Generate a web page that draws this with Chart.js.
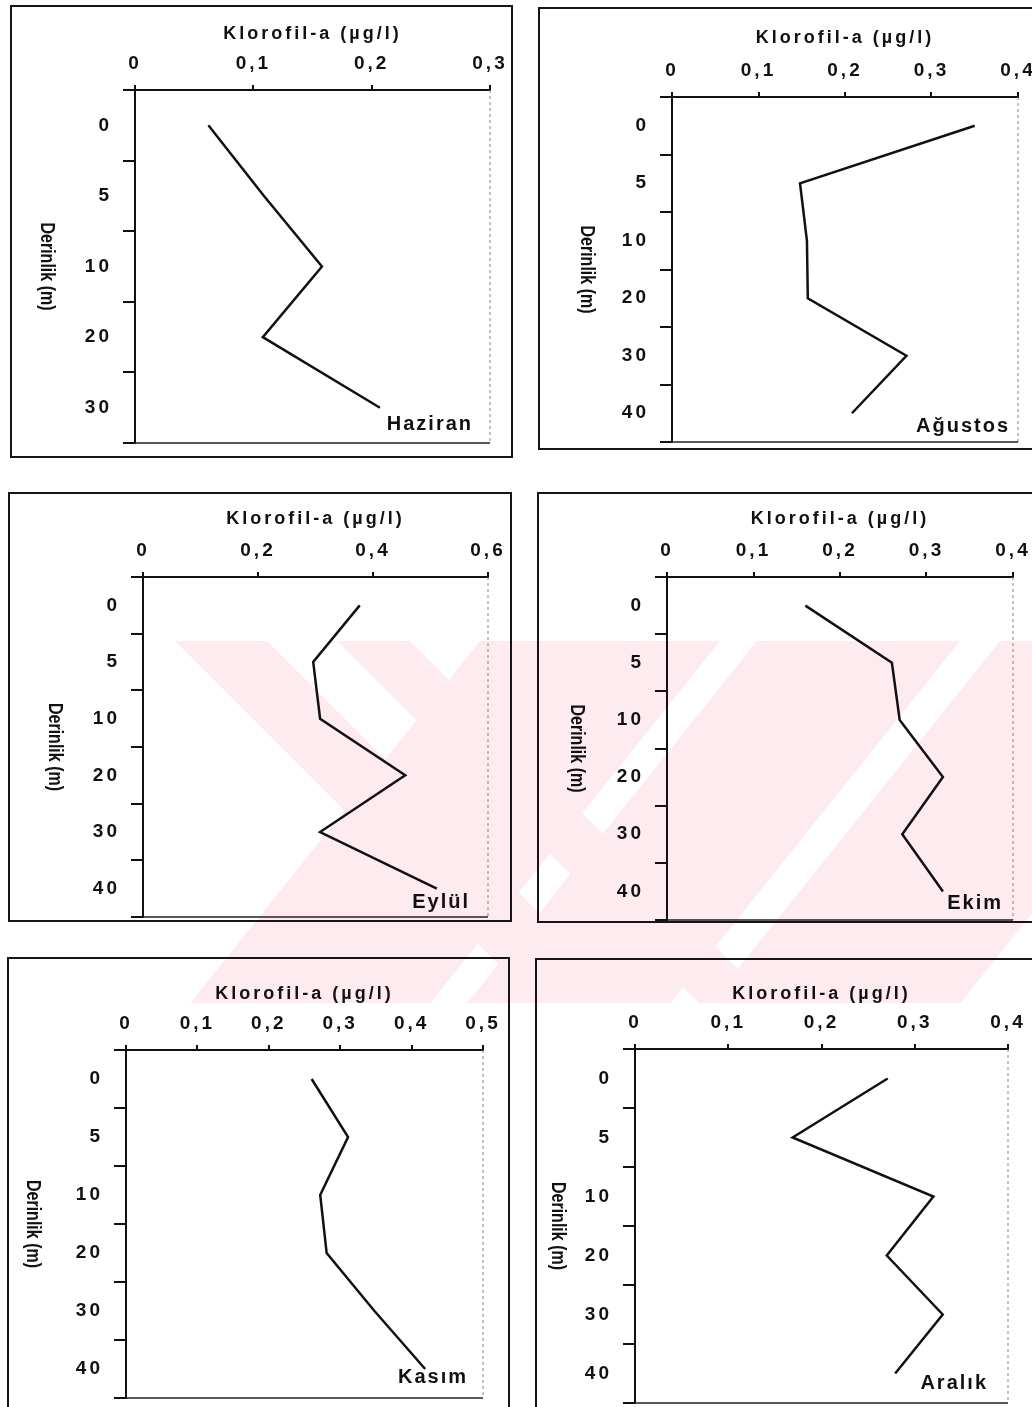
<!DOCTYPE html>
<html lang="tr">
<head>
<meta charset="utf-8">
<title>Klorofil-a derinlik profilleri</title>
<script src="https://cdn.jsdelivr.net/npm/chart.js"></script>
<style>
  html, body { margin: 0; padding: 0; background: #fff; overflow: hidden; }
  body { width: 1032px; height: 1407px; position: relative; }
  #filigran { position: absolute; left: 0; top: 0; }
  .panel { position: absolute; border: 2px solid #151515; box-sizing: border-box; }
  .panel canvas { position: absolute; left: 0; top: 0; }
</style>
</head>
<body>
<canvas id="filigran" width="1032" height="1407"></canvas>
<script>
// Derinlik (m) kategorileri
var derinlik5 = ['0', '5', '10', '20', '30'];
var derinlik6 = ['0', '5', '10', '20', '30', '40'];

// Klorofil-a (µg/l) degerleri, her ay icin derinlige gore
var haziran = [0.062, 0.109, 0.158, 0.108, 0.207];
var agustos = [0.350, 0.148, 0.156, 0.157, 0.271, 0.208];
var eylul   = [0.377, 0.296, 0.308, 0.456, 0.308, 0.511];
var ekim    = [0.160, 0.260, 0.269, 0.319, 0.272, 0.319];
var kasim   = [0.260, 0.311, 0.272, 0.281, 0.348, 0.419];
var aralik  = [0.271, 0.169, 0.320, 0.270, 0.330, 0.279];

// x ekseni ust siniri ve adim
var xMax  = [0.3, 0.4, 0.6, 0.4, 0.5, 0.4];
var xStep = [0.1, 0.1, 0.2, 0.1, 0.1, 0.1];
var aylar = ['Haziran', 'Ağustos', 'Eylül', 'Ekim', 'Kasım', 'Aralık'];

// Panel yerlesimi (sayfa koordinatlari): cerceve ve cizim alani
var paneller = [
  { box: [10, 5, 513, 458],     area: [135, 90, 490, 443],    yBaslikX: 35, xBaslikPad: 16, ayKay: [17, 19], labels: derinlik5, data: haziran },
  { box: [538, 7, 1045, 450],   area: [672, 97, 1018, 442],   yBaslikX: 47, xBaslikPad: 18, ayKay: [8, 16],  labels: derinlik6, data: agustos },
  { box: [8, 492, 512, 922],    area: [143, 577, 488, 917],   yBaslikX: 45, xBaslikPad: 14, ayKay: [18, 15], labels: derinlik6, data: eylul },
  { box: [537, 492, 1045, 923], area: [667, 577, 1013, 920],  yBaslikX: 38, xBaslikPad: 14, ayKay: [10, 17], labels: derinlik6, data: ekim },
  { box: [7, 957, 510, 1412],   area: [126, 1050, 483, 1398], yBaslikX: 24, xBaslikPad: 24, ayKay: [15, 21], labels: derinlik6, data: kasim },
  { box: [535, 958, 1045, 1412], area: [635, 1049, 1008, 1403], yBaslikX: 21, xBaslikPad: 23, ayKay: [20, 20], labels: derinlik6, data: aralik }
];

var yazi = '"Liberation Sans", Arial, sans-serif';

// arka plandaki soluk pembe filigran (yaklasik)
(function () {
  var c = document.getElementById('filigran').getContext('2d');
  var y0 = 641, y1 = 1003;
  c.fillStyle = '#fdebef';
  function serit(a, b, egim) {
    var d = (y1 - y0) * egim;
    c.beginPath();
    c.moveTo(a, y0); c.lineTo(b, y0);
    c.lineTo(b + d, y1); c.lineTo(a + d, y1);
    c.closePath(); c.fill();
  }
  serit(175, 267, 1);
  serit(337, 410, 1);
  serit(480, 720, -0.8);
  serit(757, 960, -0.8);
  serit(1000, 1250, -0.8);
})();

// cerceve, ay adi ve dikey eksen basligi
var cercevePlugin = {
  id: 'cerceve',
  beforeDraw: function (chart) {
    chart.ctx.letterSpacing = '3px';
  },
  afterDraw: function (chart, args, o) {
    var a = chart.chartArea;
    var ctx = chart.ctx;
    ctx.save();
    ctx.strokeStyle = '#888';
    ctx.lineWidth = 1;
    ctx.setLineDash([3, 3]);
    ctx.beginPath();
    ctx.moveTo(a.right, a.top);
    ctx.lineTo(a.right, a.bottom);
    ctx.stroke();
    ctx.setLineDash([]);
    ctx.strokeStyle = '#222';
    ctx.lineWidth = 1.5;
    ctx.beginPath();
    ctx.moveTo(a.left, a.bottom);
    ctx.lineTo(a.right, a.bottom);
    ctx.stroke();

    ctx.fillStyle = '#111';
    ctx.font = 'bold 20px ' + yazi;
    ctx.letterSpacing = '2px';
    ctx.textAlign = 'right';
    ctx.textBaseline = 'middle';
    ctx.fillText(o.ay, a.right - o.kay[0], a.bottom - o.kay[1]);

    ctx.translate(o.yX, (a.top + a.bottom) / 2);
    ctx.rotate(Math.PI / 2);
    ctx.scale(0.8, 1);
    ctx.font = 'bold 20px ' + yazi;
    ctx.letterSpacing = '0px';
    ctx.textAlign = 'center';
    ctx.fillText('Derinlik (m)', 0, 0);
    ctx.restore();
  }
};

function virgul(v) {
  return v === 0 ? '0' : v.toFixed(1).replace('.', ',');
}

paneller.forEach(function (p, i) {
  var W = p.box[2] - p.box[0], H = p.box[3] - p.box[1];
  var ox = p.box[0] + 2, oy = p.box[1] + 2;
  var cw = W - 4, ch = H - 4;

  var div = document.createElement('div');
  div.className = 'panel';
  div.style.left = p.box[0] + 'px';
  div.style.top = p.box[1] + 'px';
  div.style.width = W + 'px';
  div.style.height = H + 'px';
  var cv = document.createElement('canvas');
  cv.width = cw; cv.height = ch;
  cv.style.width = cw + 'px'; cv.style.height = ch + 'px';
  div.appendChild(cv);
  document.body.appendChild(div);

  var yW = p.area[0] - ox, xH = p.area[1] - oy;
  var tikYazi = { family: yazi, size: 19, weight: 'bold' };

  new Chart(cv, {
    type: 'line',
    data: {
      labels: p.labels,
      datasets: [{
        data: p.data,
        borderColor: '#111',
        borderWidth: 2.5,
        pointRadius: 0,
        tension: 0,
        fill: false
      }]
    },
    options: {
      indexAxis: 'y',
      responsive: false,
      animation: false,
      devicePixelRatio: 1,
      layout: { padding: { left: 0, top: 0, right: cw - (p.area[2] - ox), bottom: ch - (p.area[3] - oy) } },
      plugins: {
        legend: { display: false },
        tooltip: { enabled: false },
        cerceve: { ay: aylar[i], kay: p.ayKay, yX: p.yBaslikX }
      },
      scales: {
        x: {
          type: 'linear',
          position: 'top',
          min: 0,
          max: xMax[i],
          ticks: { stepSize: xStep[i], callback: virgul, color: '#111', font: tikYazi, padding: 10, maxRotation: 0 },
          grid: { drawOnChartArea: false, tickLength: 5, color: '#111', lineWidth: 2 },
          border: { color: '#111', width: 2 },
          title: { display: true, text: 'Klorofil-a (µg/l)', color: '#111', font: { family: yazi, size: 18, weight: 'bold' }, padding: { top: p.xBaslikPad, bottom: 0 } },
          afterFit: function (s) { s.height = xH; s.paddingLeft = 0; s.paddingRight = 0; }
        },
        y: {
          type: 'category',
          position: 'left',
          offset: true,
          ticks: { color: '#111', font: tikYazi, padding: 11 },
          grid: { offset: true, drawOnChartArea: false, tickLength: 12, color: '#111', lineWidth: 2 },
          border: { color: '#111', width: 2 },
          afterFit: function (s) { s.width = yW; s.paddingTop = 0; s.paddingBottom = 0; }
        }
      }
    },
    plugins: [cercevePlugin]
  });
});
</script>
</body>
</html>
